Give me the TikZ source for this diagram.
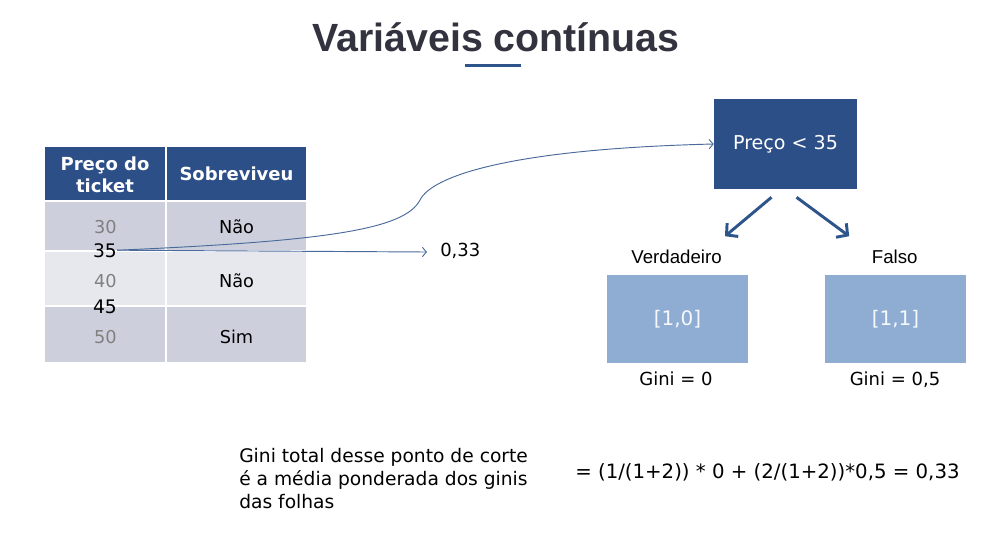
\documentclass[tikz,border=0pt]{standalone}
\usepackage{fontspec}
\setmainfont{DejaVu Sans}
\newfontfamily\arialfont{Liberation Sans}
\usetikzlibrary{arrows.meta,calc}

\definecolor{titlegray}{HTML}{33333F}
\definecolor{darkblue}{HTML}{2C4F87}
\definecolor{leafblue}{HTML}{8FADD3}
\definecolor{rowdark}{HTML}{CDD0DC}
\definecolor{rowlight}{HTML}{E7E8EE}
\definecolor{numgray}{HTML}{808080}
\definecolor{linkblue}{HTML}{2E548C}
\definecolor{thinblue}{HTML}{4A6A9C}

\begin{document}
\begin{tikzpicture}[x=0.75pt,y=-0.75pt,
	every node/.style={inner sep=0pt},
	cellbox/.style 2 args={anchor=north west, minimum width=#1, minimum height=#2},
	headtxt/.style={text=white, font=\fontsize{13.5}{16.8}\selectfont\bfseries, align=center},
	valtxt/.style={anchor=base, font=\fontsize{13.3}{15}\selectfont},
	graytxt/.style={valtxt, text=numgray},
	cuttxt/.style={anchor=base, font=\fontsize{14}{16}\selectfont},
	treetxt/.style={font=\fontsize{14.3}{16}\selectfont},
	leaftxt/.style={fill=leafblue, minimum width=105.75pt, minimum height=66pt, text=white!92!leafblue, font=\fontsize{15}{17}\selectfont},
	sidetxt/.style={anchor=base, font=\arialfont\fontsize{14}{16}\selectfont},
	notetxt/.style={font=\fontsize{14}{17.2}\selectfont, align=left},
	thinarrow/.style={thinblue, line width=0.7pt, -{Straight Barb[length=3pt,width=7pt]}},
	branch/.style={linkblue, line width=2.2pt, -{Straight Barb[length=6pt,width=13pt]}}]
	\useasboundingbox[fill=white] (0,0) rectangle (992,547);

	% title
	\node[anchor=base, text=titlegray, font=\arialfont\bfseries\fontsize{29.5}{36}\selectfont] (title) at (496,51) {Variáveis contínuas};
	\fill[linkblue] (465,63.5) rectangle (521,67);

	% table
	\node[cellbox={90pt}{39.75pt}, fill=darkblue] (head1) at (45,147) {};
	\node[cellbox={104.25pt}{39.75pt}, fill=darkblue] (head2) at (167,147) {};
	\node[cellbox={90pt}{36pt}, fill=rowdark] (row1a) at (45,202) {};
	\node[cellbox={104.25pt}{36pt}, fill=rowdark] (row1b) at (167,202) {};
	\node[cellbox={90pt}{39.75pt}, fill=rowlight] (row2a) at (45,252) {};
	\node[cellbox={104.25pt}{39.75pt}, fill=rowlight] (row2b) at (167,252) {};
	\node[cellbox={90pt}{41.25pt}, fill=rowdark] (row3a) at (45,307) {};
	\node[cellbox={104.25pt}{41.25pt}, fill=rowdark] (row3b) at (167,307) {};

	\node[headtxt] (preco) at (105,174.5) {Preço do\\ticket};
	\node[headtxt, anchor=base] (sobre) at (236.5,180.7) {Sobreviveu};
	\node[graytxt] (n30) at (105.5,233) {30};
	\node[valtxt] (nao1) at (236.5,233) {Não};
	\node[cuttxt] (n35) at (105,257) {35};
	\node[graytxt] (n40) at (105.5,287) {40};
	\node[valtxt] (nao2) at (236.5,287) {Não};
	\node[cuttxt] (n45) at (105,313) {45};
	\node[graytxt] (n50) at (105.5,343) {50};
	\node[valtxt] (sim) at (236.5,343) {Sim};

	\node[cuttxt, font=\fontsize{13.5}{16}\selectfont, anchor=west] (gini35) at (440,251) {0,33};

	% tree
	\node[fill=darkblue, minimum width=107.25pt, minimum height=67.5pt, text=white, treetxt] (root) at (785.5,144) {Preço < 35};
	\node[sidetxt] (verd) at (676.5,263) {Verdadeiro};
	\node[sidetxt] (falso) at (894.7,263) {Falso};
	\node[leaftxt] (leafl) at (677.5,319) {[1,0]};
	\node[leaftxt] (leafr) at (895.5,319) {[1,1]};
	\node[cuttxt, font=\fontsize{13.5}{16}\selectfont] (ginil) at (676,385) {Gini = 0};
	\node[cuttxt, font=\fontsize{13.5}{16}\selectfont] (ginir) at (895,385) {Gini = 0,5};

	\draw[branch] ($(root.south)+(-14,8)$) -- ($(verd.north)+(48.5,-13)$);
	\draw[branch] ($(root.south)+(11,8)$) -- ($(falso.north)+(-45.5,-13)$);

	% links from the cut point
	\draw[thinarrow] (n35.east) -- ($(gini35.west)+(-13,1)$);
	\draw[thinarrow] (n35.east) .. controls (330,241) and (405,229) .. (420,200)
		.. controls (432,176) and (510,149) .. (root.west);

	% note
	\node[notetxt, anchor=north west] (note) at (239,448) {Gini total desse ponto de corte\\é a média ponderada dos ginis\\das folhas};
	\node[anchor=base west, font=\fontsize{14.8}{17}\selectfont] (formula) at (575,478.3) {= (1/(1+2)) * 0 + (2/(1+2))*0,5 = 0,33};
\end{tikzpicture}
\end{document}
